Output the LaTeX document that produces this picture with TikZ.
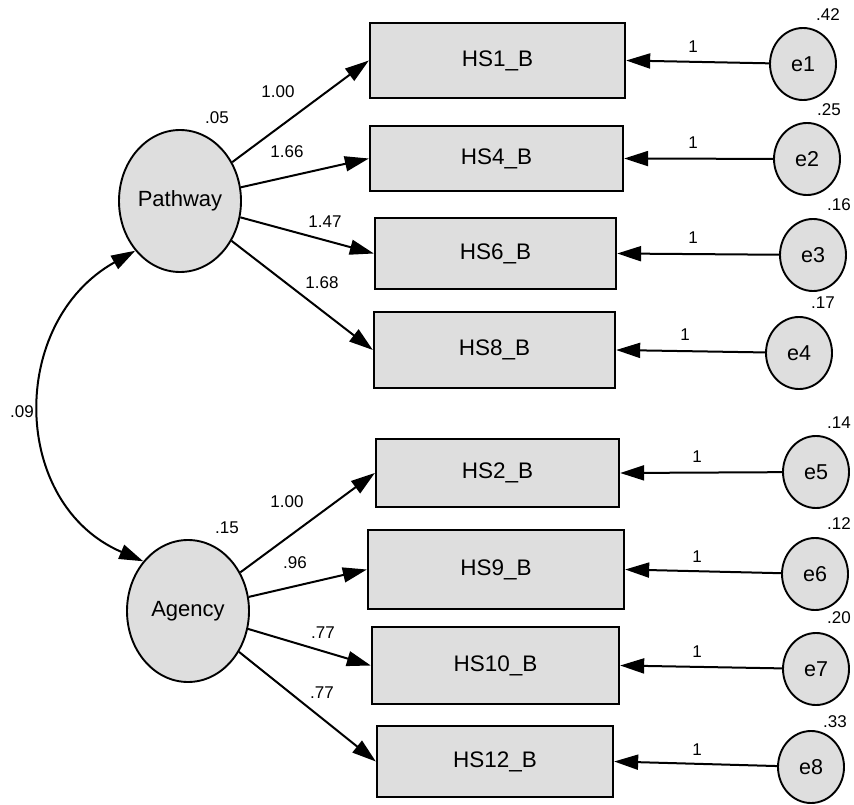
\documentclass[tikz,border=0pt]{standalone}
\usepackage{fontspec}
\setmainfont{Liberation Sans}
\usetikzlibrary{arrows.meta,shapes.geometric}

\tikzset{
  stip/.style={fill=black!13},
  latent/.style={ellipse, draw, line width=1.9pt, stip, minimum width=122pt, minimum height=142pt, inner sep=0pt, font=\fontsize{22}{26}\selectfont},
  obsbox/.style={rectangle, draw, line width=2.3pt, stip, inner sep=0pt, font=\fontsize{22.5}{26}\selectfont},
  errc/.style={ellipse, draw, line width=1.9pt, stip, minimum width=66pt, minimum height=72pt, inner sep=0pt, font=\fontsize{21.5}{24}\selectfont},
  num/.style={inner sep=0pt, font=\fontsize{17}{20}\selectfont},
  path arrow/.style={line width=2pt, -{Triangle[length=24pt,width=15pt]}},
  cov arrow/.style={line width=2pt, {Triangle[length=24pt,width=15pt]}-{Triangle[length=24pt,width=15pt]}},
}

\begin{document}
\begin{tikzpicture}[x=1pt,y=-1pt]
\useasboundingbox (0,0) rectangle (854,805);

% latent factors
\node[latent] (pw) at (180,201) {Pathway};
\node[latent] (ag) at (188,611) {Agency};

% observed indicators
\node[obsbox, minimum width=255pt, minimum height=75pt] (hs1)  at (497.5,60.5) {HS1\_B};
\node[obsbox, minimum width=253pt, minimum height=65pt] (hs4)  at (496.5,158.5) {HS4\_B};
\node[obsbox, minimum width=241pt, minimum height=71pt] (hs6)  at (495.5,253.5) {HS6\_B};
\node[obsbox, minimum width=241pt, minimum height=76pt] (hs8)  at (494.5,350) {HS8\_B};
\node[obsbox, minimum width=243pt, minimum height=68pt] (hs2)  at (497.5,473) {HS2\_B};
\node[obsbox, minimum width=256pt, minimum height=79pt] (hs9)  at (496,569.5) {HS9\_B};
\node[obsbox, minimum width=247pt, minimum height=77pt] (hs10) at (495.5,665.5) {HS10\_B};
\node[obsbox, minimum width=236pt, minimum height=71pt] (hs12) at (495,761.5) {HS12\_B};

% error terms
\node[errc] (e1) at (803,64)  {e1};
\node[errc] (e2) at (807,159) {e2};
\node[errc] (e3) at (813,255) {e3};
\node[errc] (e4) at (799,353) {e4};
\node[errc] (e5) at (816,472) {e5};
\node[errc] (e6) at (815,574) {e6};
\node[errc] (e7) at (816,669) {e7};
\node[errc] (e8) at (811,767) {e8};

% factor loadings
\draw[path arrow] (pw) -- (hs1.west);
\draw[path arrow] (pw) -- (hs4.west);
\draw[path arrow] (pw) -- (hs6.west);
\draw[path arrow] (pw) -- (hs8.west);
\draw[path arrow] (ag) -- (hs2.west);
\draw[path arrow] (ag) -- (hs9.west);
\draw[path arrow] (ag) -- (hs10.west);
\draw[path arrow] (ag) -- (hs12.west);

% error paths
\foreach \e/\h in {e1/hs1,e2/hs4,e3/hs6,e4/hs8,e5/hs2,e6/hs9,e7/hs10,e8/hs12}
  \draw[path arrow] (\e) -- (\h.east);

% factor covariance
\draw[cov arrow] (pw.228) .. controls (8,322) and (10,504) .. (ag.132);

% estimates
\node[num] (v05) at (217,118) {.05};
\node[num] (v15) at (227,528) {.15};
\node[num] (c09) at (22,412) {.09};

\node[num] (l1) at (278,92)  {1.00};
\node[num] (l4) at (287,152) {1.66};
\node[num] (l6) at (325,222) {1.47};
\node[num] (l8) at (322,283) {1.68};
\node[num] (l2) at (287,502) {1.00};
\node[num] (l9) at (295,563) {.96};
\node[num] (l10) at (323,633) {.77};
\node[num] (l12) at (322,693) {.77};

\node[num] (f1) at (693,47)  {1};
\node[num] (f2) at (693,143) {1};
\node[num] (f3) at (693,238) {1};
\node[num] (f4) at (685,335) {1};
\node[num] (f5) at (697,457) {1};
\node[num] (f6) at (697,557) {1};
\node[num] (f7) at (697,652) {1};
\node[num] (f8) at (697,750) {1};

\node[num] (v1) at (828,15)  {.42};
\node[num] (v2) at (829,110) {.25};
\node[num] (v3) at (839,205) {.16};
\node[num] (v4) at (823,303) {.17};
\node[num] (v5) at (839,423) {.14};
\node[num] (v6) at (839,524) {.12};
\node[num] (v7) at (839,618) {.20};
\node[num] (v8) at (835,722) {.33};
\end{tikzpicture}
\end{document}
